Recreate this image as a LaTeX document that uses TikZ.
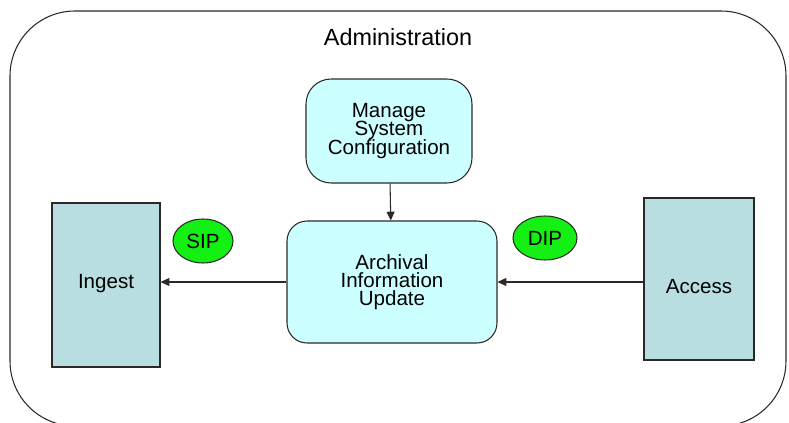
\documentclass[tikz,border=0pt]{standalone}
\usepackage{fontspec}
\setmainfont{Liberation Sans}
\usetikzlibrary{shapes.geometric, arrows.meta}
\definecolor{boxcyan}{RGB}{204,255,255}
\definecolor{stockblue}{RGB}{184,222,226}
\definecolor{pkggreen}{RGB}{20,240,20}
\definecolor{edge}{RGB}{45,40,40}
\newcommand{\boxfont}{\fontsize{11.7}{10.3}\selectfont\lineskiplimit=-6pt\relax}

\begin{document}
\begin{tikzpicture}[x=0.02cm, y=-0.02cm, line width=0.6pt,
		txt/.style={font=\boxfont, align=center, text=black},
		entity/.style={txt, draw=edge, rectangle, fill=stockblue},
		func/.style={txt, draw=edge, rectangle, fill=boxcyan},
		pkg/.style={txt, draw=edge, ellipse, fill=pkggreen, inner sep=0pt}]
				\useasboundingbox (0, 0) rectangle (789, 423);
				\clip (0, 0) rectangle (789, 423);
				% enclosing administration area
				\draw[edge, rounded corners=1.3cm] (10, 11) rectangle (786, 426);
				\node[txt, font=\fontsize{13.3}{14}\selectfont] (adm)at(398, 37) {Administration};
				\node[entity, minimum width=2.16cm, minimum height=3.28cm, text height=8.5pt, text depth=4.7pt] (ING)at(106, 285) {Ingest};
				\node[entity, minimum width=2.2cm, minimum height=3.24cm, text height=16.5pt, text depth=0pt] (ACC)at(699, 279) {Access};
				\node[func, rounded corners=0.5cm, minimum width=3.32cm, minimum height=2.08cm] (MSC)at(389, 131) {Manage\\System\\Configuration};
				\node[func, rounded corners=0.4cm, minimum width=4.2cm, minimum height=2.44cm] (AIU)at(392, 282) {Archival\\Information\\Update};
				\node[pkg, minimum width=1.2cm, minimum height=0.88cm] (SIP)at(203, 241) {SIP};
				\node[pkg, minimum width=1.28cm, minimum height=0.88cm] (DIP)at(545, 238) {DIP};
				\draw[->, >={Triangle[length=5pt, width=4.5pt]}, edge] (MSC) -- (AIU);
				\draw[->, >={Triangle[length=5pt, width=4.5pt]}, edge] (AIU.west) -- (ING.east |- AIU.west);
				\draw[->, >={Triangle[length=5pt, width=4.5pt]}, edge] (ACC.west |- AIU.east) -- (AIU.east);
			\end{tikzpicture}
\end{document}
